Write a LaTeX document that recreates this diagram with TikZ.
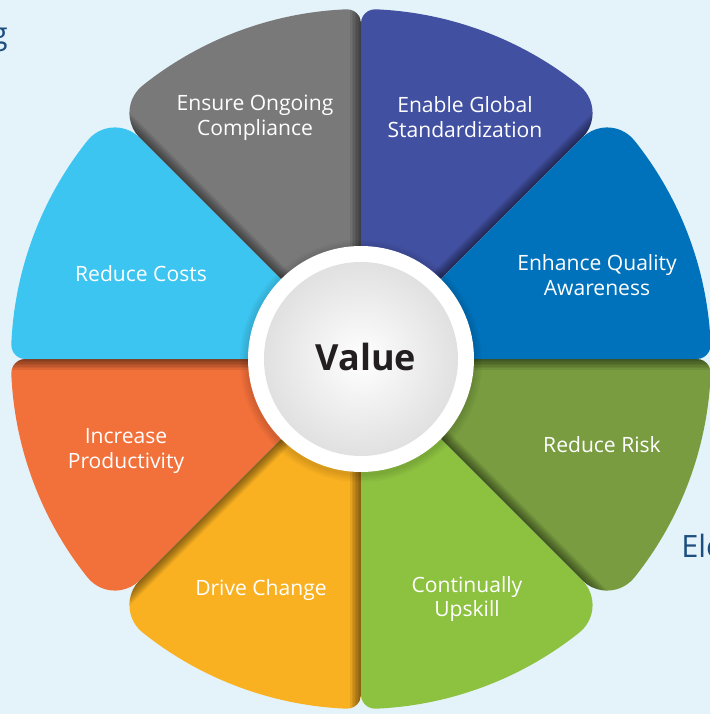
\documentclass[tikz,border=0pt]{standalone}
\usepackage{fontspec}
\setmainfont{Open Sans}
\usetikzlibrary{positioning}

\definecolor{bgblue}{HTML}{E4F2FA}
\definecolor{pgray}{HTML}{797979}
\definecolor{pindigo}{HTML}{4250A1}
\definecolor{pblue}{HTML}{0072BB}
\definecolor{polive}{HTML}{789C3F}
\definecolor{pgreen}{HTML}{8DC241}
\definecolor{pyellow}{HTML}{F9B122}
\definecolor{porange}{HTML}{F2703A}
\definecolor{pcyan}{HTML}{3CC5F0}
\definecolor{fragblue}{HTML}{1C4E80}
\definecolor{valueink}{HTML}{231F20}

% sector of the wheel: axis angle, diagonal angle, turn direction
\def\petR{350}
\def\petrA{14}
\def\petdA{335.7}
\def\petphA{2.39}
\def\petrB{35}
\def\petphB{6.38}
\newcommand{\petalpath}[3]{(0,0) -- (#1:\petdA)
  arc[start angle={#1-(#3)*90}, end angle={#1+(#3)*\petphA}, radius=\petrA]
  arc[start angle={#1+(#3)*\petphA}, end angle={#2-(#3)*\petphB}, radius=\petR]
  arc[start angle={#2-(#3)*\petphB}, end angle={#2+(#3)*90}, radius=\petrB] -- cycle}

\begin{document}
\begin{tikzpicture}[x=0.02cm, y=0.02cm,
    petaltext/.style={text=white, align=center, font=\fontsize{12}{14}\selectfont},
    fragtext/.style={text=fragblue, inner sep=0pt, font=\fontsize{17.5}{21}\selectfont}]
	\fill[bgblue] (-361,-355) rectangle (349,359);
	\useasboundingbox (-361,-355) rectangle (349,359);

	% petals
	\foreach \ax/\dg/\sg/\pc in {90/135/1/pgray, 0/-45/-1/polive, -90/-135/-1/pyellow, 90/45/-1/pindigo,
	    180/225/1/porange, -90/-45/1/pgreen, 0/45/1/pblue, 180/135/-1/pcyan}
		\fill[\pc] \petalpath{\ax}{\dg}{\sg};

	% shadows cast along the straight edges
	\foreach \t/\o/\la/\lb/\ls in {90/180/90/135/1, 135/45/90/135/1, 45/135/90/45/-1, 0/-90/0/-45/-1,
	    -45/45/0/-45/-1, -90/180/-90/-135/-1, -135/-45/-90/-135/-1, 180/-90/180/225/1}{
		\begin{scope}
			\clip \petalpath{\la}{\lb}{\ls};
			\foreach \w in {1.5,3,...,10.5}
				\fill[black, opacity=0.075] (0,0) -- (\t:380) -- ([shift={(\o:\w)}]\t:380) -- (\o:\w) -- cycle;
		\end{scope}
	}

	% hub
	\foreach \r in {115,117,...,121}
		\fill[black, opacity=0.03] (0,-2) circle[radius=\r];
	\fill[white] (0,0) circle[radius=113];
	\shade[inner color=white, outer color=black!12] (0,0) circle[radius=97];
	\node[text=valueink, font=\fontsize{20.5}{24}\bfseries\selectfont] (value) at (5,2) {Value};

	\node[petaltext] (compliance) at (-106,241) {Ensure Ongoing\\Compliance};
	\node[petaltext] (standardization) at (104,242) {Enable Global\\Standardization};
	\node[petaltext] (quality) at (236,84) {Enhance Quality\\Awareness};
	\node[petaltext] (costs) at (-220,85) {Reduce Costs};
	\node[petaltext] (productivity) at (-235,-92) {Increase\\Productivity};
	\node[petaltext] (risk) at (241,-86) {Reduce Risk};
	\node[petaltext] (change) at (-100,-231) {Drive Change};
	\node[petaltext] (upskill) at (106,-240) {Continually\\Upskill};

	% cut-off words at the page edges
	\node[fragtext, anchor=base east] (fragG) at (-353,314) {g};
	\node[fragtext, anchor=base west] (fragEle) at (320,-198) {Ele};
\end{tikzpicture}
\end{document}
